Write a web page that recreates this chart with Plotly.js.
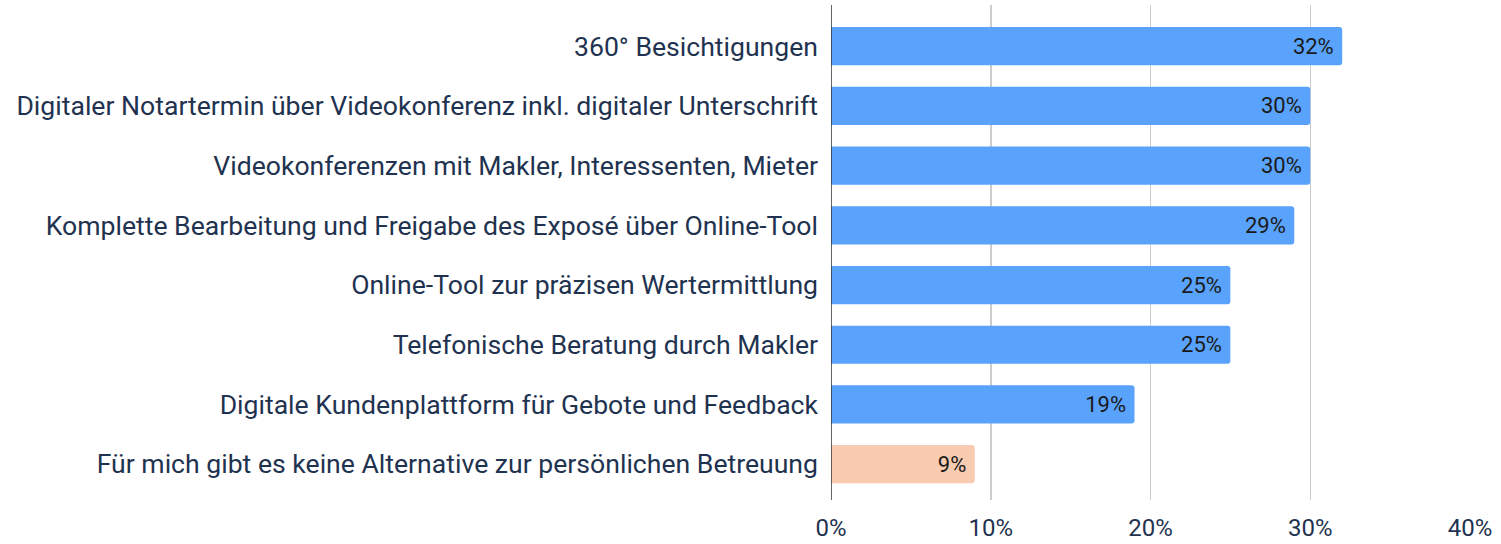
<!DOCTYPE html>
<html>
<head>
<meta charset="utf-8">
<script src="https://cdn.plot.ly/plotly-3.0.1.min.js"></script>
<style>html,body{margin:0;padding:0;background:#fff;}#chart{width:1501px;height:544px;}</style>
</head>
<body>
<div id="chart"></div>
<script>
const categories = [
  "360° Besichtigungen",
  "Digitaler Notartermin über Videokonferenz inkl. digitaler Unterschrift",
  "Videokonferenzen mit Makler, Interessenten, Mieter",
  "Komplette Bearbeitung und Freigabe des Exposé über Online-Tool",
  "Online-Tool zur präzisen Wertermittlung",
  "Telefonische Beratung durch Makler",
  "Digitale Kundenplattform für Gebote und Feedback",
  "Für mich gibt es keine Alternative zur persönlichen Betreuung"
];
const values = [32, 30, 30, 29, 25, 25, 19, 9];
const barColors = ["#5aa3fd","#5aa3fd","#5aa3fd","#5aa3fd","#5aa3fd","#5aa3fd","#5aa3fd","#f9cbb0"];
const tickVals = [0, 10, 20, 30, 40];
const tickLabels = ["0%", "10%", "20%", "30%", "40%"];

const trace = {
  type: 'bar',
  orientation: 'h',
  y: categories,
  x: values,
  width: 0.64,
  marker: {color: barColors, cornerradius: 3},
  text: values.map(v => v + '% '),
  textposition: 'inside',
  insidetextanchor: 'end',
  textangle: 0,
  textfont: {family: 'Roboto', size: 22, color: '#1a1a1a'},
  hoverinfo: 'none',
  cliponaxis: false
};

const layout = {
  width: 1501, height: 544,
  margin: {l: 831, r: 31, t: 5, b: 44, pad: 0},
  paper_bgcolor: '#ffffff', plot_bgcolor: '#ffffff',
  showlegend: false,
  font: {family: 'Roboto', color: '#1f3350'},
  xaxis: {
    range: [0, 40], tickvals: tickVals, ticktext: tickLabels,
    showgrid: true, gridcolor: '#cccccc', gridwidth: 1.5,
    zeroline: false, showline: false,
    ticks: '', ticklabelstandoff: 11,
    tickfont: {family: 'Roboto', size: 24, color: '#1f3350'},
    fixedrange: true
  },
  yaxis: {
    range: [7.6, -0.69], autorange: false,
    type: 'category',
    showgrid: false, zeroline: false,
    showline: false,
    ticks: '', ticklabelstandoff: 12,
    tickfont: {family: 'Roboto', size: 26.6, color: '#1f3350'},
    fixedrange: true
  },
  shapes: [{
    type: 'line', xref: 'x', yref: 'paper', x0: 0, x1: 0, y0: 0, y1: 1,
    line: {color: '#333333', width: 1.5}, layer: 'above'
  }],
  bargap: 0.36
};

Plotly.newPlot('chart', [trace], layout, {displayModeBar: false, staticPlot: true});
</script>
</body>
</html>
